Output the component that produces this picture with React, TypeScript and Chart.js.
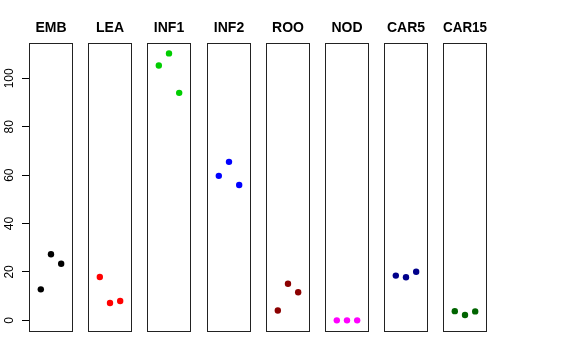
import React, { useEffect, useRef } from "react";
import { Chart, registerables } from "chart.js";

Chart.register(...registerables);

const panelNames = ["EMB", "LEA", "INF1", "INF2", "ROO", "NOD", "CAR5", "CAR15"];
const panelColors = ["#000000", "#FF0000", "#00CD00", "#0000FF", "#8B0000", "#FF00FF", "#00008B", "#006400"];
const replicateX = [1, 2, 3];
const embValues = [12.8, 27.3, 23.4];
const leaValues = [17.9, 7.2, 8.0];
const inf1Values = [105.3, 110.3, 94.0];
const inf2Values = [59.7, 65.5, 55.9];
const rooValues = [4.1, 15.1, 11.6];
const nodValues = [0, 0, 0];
const car5Values = [18.5, 17.8, 20.1];
const car15Values = [3.8, 2.2, 3.7];
const yTicks = [0, 20, 40, 60, 80, 100];
const yTickLabels = ["0", "20", "40", "60", "80", "100"];

const panelValues = [embValues, leaValues, inf1Values, inf2Values, rooValues, nodValues, car5Values, car15Values];

const FONT = "'Liberation Sans', Arial, Helvetica, sans-serif";
const PLOT_TOP = 43;
const PLOT_BOTTOM = 331;
const PLOT_W = 44;
const FIRST_LEFT = 29;
const SPACING = 59.2;
const SIDE = 8;

const boxPlugin = {
  id: "panelBox",
  afterDraw(chart: any) {
    const { ctx, chartArea } = chart;
    ctx.save();
    ctx.strokeStyle = "#222";
    ctx.lineWidth = 1;
    ctx.strokeRect(chartArea.left + 0.5, chartArea.top + 0.5, chartArea.right - chartArea.left - 1, chartArea.bottom - chartArea.top);
    ctx.restore();
  },
};

function Panel({ index }: { index: number }) {
  const ref = useRef<HTMLCanvasElement>(null);
  const first = index === 0;
  const plotLeft = Math.round(FIRST_LEFT + index * SPACING);
  const canvasLeft = first ? 0 : plotLeft - SIDE;
  const canvasWidth = first ? plotLeft + PLOT_W + SIDE : PLOT_W + 2 * SIDE;

  useEffect(() => {
    if (!ref.current) return;
    const chart = new Chart(ref.current, {
      type: "scatter",
      data: {
        datasets: [
          {
            label: panelNames[index],
            data: replicateX.map((x, j) => ({ x, y: panelValues[index][j] })),
            backgroundColor: panelColors[index],
            borderWidth: 0,
            pointRadius: 3.2,
            pointHoverRadius: 3.2,
          },
        ],
      },
      options: {
        responsive: false,
        animation: false,
        events: [],
        layout: {
          padding: {
            left: first ? 0 : SIDE,
            right: SIDE,
            top: 0,
            bottom: 360 - PLOT_BOTTOM,
          },
        },
        plugins: {
          legend: { display: false },
          tooltip: { enabled: false },
          title: {
            display: true,
            text: panelNames[index],
            fullSize: !first,
            color: "#000",
            font: { family: FONT, size: 14, weight: "bold" },
            padding: { top: 20, bottom: PLOT_TOP - 20 - 16.8 },
          },
        },
        scales: {
          x: {
            type: "linear",
            display: false,
            min: -0.16,
            max: 4.16,
          },
          y: {
            type: "linear",
            display: first,
            min: -4.4,
            max: 114.6,
            afterBuildTicks: (scale: any) => {
              scale.ticks = yTicks.map((v) => ({ value: v }));
            },
            afterFit: (scale: any) => {
              scale.width = first ? FIRST_LEFT : 0;
            },
            border: { display: false },
            grid: {
              display: true,
              drawOnChartArea: false,
              drawTicks: true,
              tickLength: 7,
              color: "#000",
              lineWidth: 1,
            },
            ticks: {
              minRotation: 90,
              maxRotation: 90,
              crossAlign: "center",
              padding: 2.5,
              color: "#000",
              font: { family: FONT, size: 12 },
              callback: (_v: any, i: number) => yTickLabels[i],
            },
          },
        },
      },
      plugins: [boxPlugin],
    });
    return () => chart.destroy();
  }, [index]);

  return (
    <canvas
      ref={ref}
      width={canvasWidth}
      height={360}
      style={{ position: "absolute", left: canvasLeft, top: 0, width: canvasWidth, height: 360 }}
    />
  );
}

export default function App() {
  return (
    <div style={{ position: "fixed", left: 0, top: 0, width: 576, height: 360, background: "#fff" }}>
      {panelNames.map((_, i) => (
        <Panel key={i} index={i} />
      ))}
    </div>
  );
}
